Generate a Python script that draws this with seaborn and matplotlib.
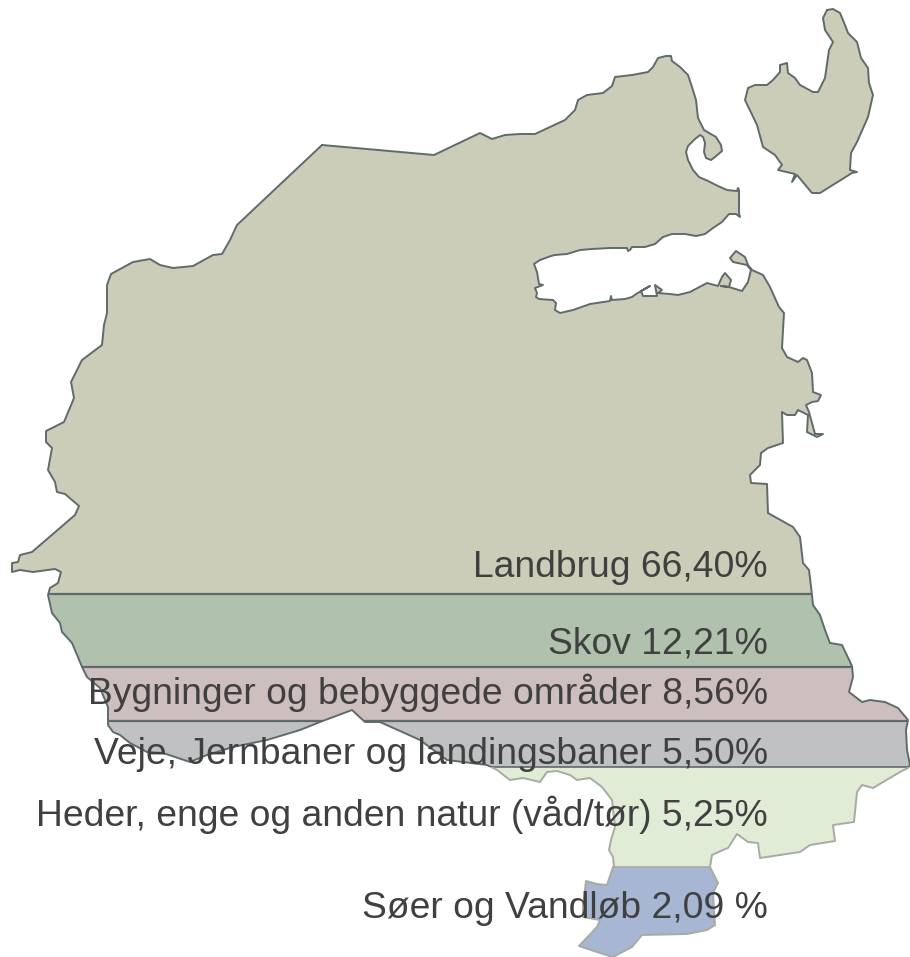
import matplotlib
matplotlib.use("Agg")
import matplotlib.pyplot as plt
from matplotlib.patches import Rectangle
import seaborn as sns

# Land use shares and labels
labels = ["Landbrug 66,40%", "Skov 12,21%", "Bygninger og bebyggede områder 8,56%",
          "Veje, Jernbaner og landingsbaner 5,50%",
          "Heder, enge og anden natur (våd/tør) 5,25%", "Søer og Vandløb 2,09 %"]
colors = ["#CCCDB8", "#B0C1AE", "#CDBFBE", "#C0C1C3", "#E1ECD6", "#A7B7D3"]
band_tops = [0, 594, 667, 721, 767, 867]
band_bottoms = [594, 667, 721, 767, 867, 957]
label_baselines = [577, 654, 704, 764, 826, 918]

# Map outline
north_x = [322, 434, 455, 480, 492, 505, 520, 535, 550, 565, 575, 578, 587, 603, 612, 615, 632, 648, 653, 658, 666,
           671, 672, 680, 688, 692, 696, 698, 704, 716, 721, 722, 715, 711, 706, 704, 705, 703, 700, 695, 688, 686,
           688, 693, 699, 708, 718, 727, 737, 738, 739, 739, 740, 736, 729, 722, 713, 705, 696, 685, 672, 663, 655,
           645, 632, 630, 628, 627, 610, 592, 580, 567, 555, 551, 540, 534, 537, 539, 543, 535, 537, 536, 539, 553,
           556, 555, 560, 573, 590, 610, 611, 612, 625]
north_y = [145, 155, 145, 133, 139, 135, 134, 134, 127, 120, 110, 100, 95, 93, 86, 77, 75, 72, 67, 58, 56,
           56, 61, 67, 75, 87, 100, 118, 130, 137, 145, 151, 157, 160, 158, 152, 143, 137, 135, 139, 146, 152,
           160, 170, 177, 181, 186, 190, 191, 188, 190, 213, 217, 214, 214, 222, 228, 234, 236, 234, 234, 237, 244,
           247, 247, 250, 251, 248, 248, 249, 250, 254, 255, 256, 260, 264, 272, 284, 285, 288, 293, 297, 299, 300,
           303, 310, 313, 310, 304, 301, 296, 300, 299]
lagoon_x = [632, 636, 650, 641, 643, 657, 655, 662, 658, 670, 678, 690, 707, 718, 722, 725, 731, 729, 721, 729,
            742, 748, 751, 747, 733, 730, 736, 745, 748, 752, 763, 770, 779]
lagoon_y = [297, 294, 286, 291, 296, 296, 285, 290, 293, 294, 295, 292, 283, 286, 277, 273, 280, 287, 286, 287,
            291, 282, 270, 265, 262, 258, 251, 257, 265, 270, 275, 287, 307]
east_x = [784, 783, 782, 787, 798, 803, 807, 812, 813, 821, 818, 812, 806, 809, 815,
          823, 817, 807, 808, 798, 795, 787, 782, 783, 768, 761, 760, 750, 751, 767, 768, 793, 800, 803, 809, 812,
          813, 820, 825, 830, 842, 852, 853, 849, 862, 870, 885, 898, 908, 906, 907, 910, 908, 900, 873, 862, 857,
          854, 833, 835, 810, 800, 760, 758, 748, 737, 728, 723, 712, 710]
east_y = [313, 330, 348, 357, 362, 358, 360, 373, 392, 395, 401, 402, 405, 412, 434,
          434, 437, 432, 415, 410, 415, 415, 412, 443, 448, 453, 465, 475, 483, 484, 513, 527, 537, 563, 570, 595,
          605, 615, 630, 643, 645, 666, 677, 692, 702, 700, 702, 708, 720, 730, 750, 765, 768, 772, 788, 785, 792,
          822, 825, 841, 845, 852, 858, 843, 842, 834, 848, 850, 855, 867]
south_x = [718, 713, 714, 715, 707, 687, 642, 632, 613, 597, 579, 597, 600, 583, 583, 586, 597, 607, 613, 614,
           613, 609, 611, 615, 612, 602, 590, 577, 570, 557, 547, 540, 523, 510, 497, 487, 447, 420, 380, 365, 352,
           320, 300, 267, 233, 207, 190, 175, 163, 147, 130, 120, 113, 108]
south_y = [883, 893, 910, 925, 930, 934, 935, 947, 957, 952, 946, 927, 920, 917, 907, 881, 884, 885, 867, 867,
           857, 850, 840, 827, 800, 787, 778, 780, 775, 771, 772, 782, 778, 780, 770, 765, 760, 740, 722, 722, 710,
           722, 730, 740, 747, 755, 762, 757, 753, 752, 743, 735, 732, 725]
west_x = [108, 100, 87, 82, 80, 72, 62, 60, 52, 48, 50, 58, 61, 55, 33, 20, 12, 12, 18, 20, 32, 75, 79, 65, 57, 55,
          48, 52, 46, 46, 64, 74, 71, 82, 102, 104, 107, 107, 111, 133, 150, 160, 173, 193, 213, 222, 230, 237]
west_y = [707, 688, 677, 667, 662, 643, 632, 623, 613, 595, 588, 583, 572, 569, 572, 570, 572, 563, 562, 555, 552,
          515, 506, 494, 492, 482, 470, 448, 442, 431, 422, 398, 382, 360, 345, 325, 313, 285, 274, 262, 259, 265,
          268, 266, 255, 254, 240, 225]
island_x = [827, 833, 840, 845, 848, 857, 861, 868, 869, 873, 868, 857, 851, 850, 857, 852, 820, 812, 797, 792, 795,
            778, 782, 775, 763, 757, 745, 748, 755, 767, 773, 780, 780, 787, 788, 795, 800, 813, 818, 825, 829, 833,
            825, 823]
island_y = [10, 9, 13, 25, 33, 42, 58, 68, 83, 95, 117, 142, 153, 170, 172, 173, 193, 193, 175, 182, 174,
            170, 165, 155, 147, 125, 100, 88, 85, 85, 80, 72, 65, 63, 73, 78, 85, 92, 92, 78, 50, 42,
            30, 18]

main_x = north_x + lagoon_x + east_x + south_x + west_x
main_y = north_y + lagoon_y + east_y + south_y + west_y

DARK = "#5F6B6B"
LIGHT = "#A6ABA3"

sns.set_theme(style="white")
plt.rcParams["font.family"] = ["Liberation Sans", "DejaVu Sans"]

fig = plt.figure(figsize=(9.10, 9.57), dpi=100)
ax = fig.add_axes([0, 0, 1, 1])
ax.set_xlim(0, 910)
ax.set_ylim(957, 0)
ax.axis("off")

land = ax.fill(main_x, main_y, facecolor="none", edgecolor="none")[0]
ax.fill(island_x, island_y, facecolor=colors[0], edgecolor="none", zorder=1)

# land-use bands, cut to the shape of the land
for top, bottom, color in zip(band_tops, band_bottoms, colors):
    bars = ax.barh((top + bottom) / 2, 910, height=bottom - top, left=0, color=color,
                   linewidth=0, zorder=1)
    for bar in bars:
        bar.set_clip_path(land)

# band separators
for i, y in enumerate(band_bottoms[:-1]):
    sns.lineplot(x=[0, 910], y=[y, y], ax=ax, color=DARK if i < 4 else LIGHT,
                 lw=1.6 if i < 3 else 1.2, zorder=2, estimator=None)
    ax.lines[-1].set_clip_path(land)

# coast line: darker above the two lower bands, lighter within them
upper = Rectangle((0, 0), 910, band_bottoms[3], transform=ax.transData)
lower = Rectangle((0, band_bottoms[3]), 910, 957 - band_bottoms[3], transform=ax.transData)
closed_x = main_x + main_x[:1]
closed_y = main_y + main_y[:1]
sns.lineplot(x=closed_x, y=closed_y, ax=ax, sort=False, estimator=None, color=DARK, lw=1.4, zorder=3)
ax.lines[-1].set_clip_path(upper)
sns.lineplot(x=closed_x, y=closed_y, ax=ax, sort=False, estimator=None, color=LIGHT, lw=1.4, zorder=3)
ax.lines[-1].set_clip_path(lower)
sns.lineplot(x=island_x + island_x[:1], y=island_y + island_y[:1], ax=ax, sort=False, estimator=None,
             color=DARK, lw=1.4, zorder=3)

for label, base in zip(labels, label_baselines):
    ax.text(768, base, label, ha="right", va="baseline", fontsize=26.85, color="#404040", zorder=5)

ax.set_xlim(0, 910)
ax.set_ylim(957, 0)
fig.savefig("out.png", dpi=100, facecolor="white")
